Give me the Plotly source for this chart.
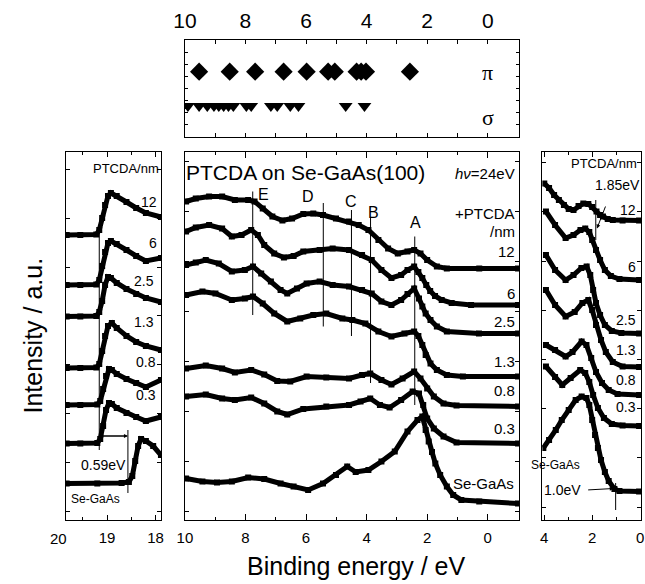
import plotly.graph_objects as go

FONT = "Liberation Sans, Arial, Helvetica, sans-serif"
SERIF = "Liberation Serif, Times New Roman, serif"

# ---- top panel: pi / sigma orbital energies (eV) ----
PI_E = [9.53, 8.52, 7.68, 6.74, 5.98, 5.27, 5.05, 4.33, 4.18, 4.02, 2.57]
SIGMA_E = [9.90, 9.53, 9.26, 9.04, 8.88, 8.72, 8.56, 8.40, 7.97, 7.81, 7.16, 6.95, 6.52, 6.25, 4.69, 4.07]
PI_ROW = 0.673
SIGMA_ROW = 0.32

# ---- main panel: valence band spectra, binding energy (eV) / intensity (a.u.) ----
MAIN_12_E = [9.96, 9.64, 9.20, 8.77, 8.35, 7.91, 7.70, 7.43, 7.11, 6.78, 6.46, 6.09, 5.76, 5.44, 5.01, 4.58, 4.26, 3.94, 3.61, 3.29, 2.97, 2.65, 2.43, 2.22, 2.00, 1.68, 1.35, 0.28, -1.0]
MAIN_12_I = [6.19, 6.25, 6.29, 6.29, 6.22, 6.22, 6.19, 6.05, 5.89, 5.81, 5.85, 5.94, 5.95, 5.92, 5.85, 5.79, 5.72, 5.62, 5.42, 5.25, 5.15, 5.19, 5.22, 5.15, 5.02, 4.89, 4.85, 4.85, 4.85]

MAIN_6_E = [9.96, 9.64, 9.20, 8.77, 8.45, 8.13, 7.81, 7.59, 7.38, 7.05, 6.73, 6.41, 6.09, 5.55, 5.12, 4.58, 4.15, 3.83, 3.51, 3.18, 2.86, 2.65, 2.43, 2.29, 2.16, 2.03, 1.90, 1.74, 1.52, 1.19, 0.55, -1.0]
MAIN_6_I = [5.59, 5.67, 5.72, 5.65, 5.49, 5.52, 5.62, 5.52, 5.32, 5.15, 5.07, 5.10, 5.19, 5.22, 5.25, 5.22, 5.12, 5.02, 4.82, 4.66, 4.72, 4.82, 4.89, 4.78, 4.66, 4.52, 4.40, 4.30, 4.22, 4.16, 4.12, 4.12]

MAIN_2_5_E = [9.96, 9.64, 9.31, 8.88, 8.45, 8.02, 7.75, 7.48, 7.16, 6.84, 6.62, 6.30, 5.98, 5.55, 5.12, 4.58, 4.15, 3.83, 3.51, 3.18, 2.86, 2.65, 2.43, 2.27, 2.16, 2.05, 1.89, 1.68, 1.35, 0.29, -1.0]
MAIN_2_5_I = [4.92, 4.97, 5.02, 4.95, 4.79, 4.82, 4.89, 4.75, 4.59, 4.42, 4.35, 4.45, 4.55, 4.59, 4.52, 4.49, 4.42, 4.35, 4.19, 4.12, 4.22, 4.34, 4.45, 4.25, 4.09, 3.95, 3.82, 3.69, 3.59, 3.55, 3.55]

MAIN_1_3_E = [9.96, 9.42, 8.99, 8.45, 8.02, 7.75, 7.43, 7.05, 6.62, 6.19, 5.76, 5.33, 4.80, 4.47, 4.04, 3.61, 3.18, 2.75, 2.43, 2.29, 2.16, 2.05, 1.89, 1.68, 1.35, 0.82, -1.0]
MAIN_1_3_I = [4.32, 4.39, 4.35, 4.22, 4.25, 4.29, 4.15, 3.95, 3.79, 3.85, 3.92, 3.95, 3.85, 3.82, 3.75, 3.59, 3.49, 3.55, 3.59, 3.50, 3.32, 3.12, 2.95, 2.82, 2.72, 2.69, 2.69]

MAIN_0_8_E = [9.96, 9.31, 8.77, 8.35, 7.81, 7.38, 6.95, 6.52, 5.98, 5.33, 4.58, 4.15, 3.88, 3.51, 3.18, 2.81, 2.43, 2.22, 2.00, 1.78, 1.46, 1.03, -1.0]
MAIN_0_8_I = [2.85, 2.91, 2.85, 2.77, 2.82, 2.73, 2.60, 2.59, 2.69, 2.67, 2.65, 2.72, 2.75, 2.62, 2.53, 2.65, 2.79, 2.65, 2.45, 2.29, 2.15, 2.11, 2.09]

MAIN_0_3_E = [9.96, 9.31, 8.77, 8.35, 7.81, 7.38, 6.95, 6.62, 6.09, 5.33, 4.58, 4.20, 3.88, 3.56, 3.24, 2.86, 2.48, 2.27, 2.13, 2.00, 1.78, 1.46, 1.03, -1.0]
MAIN_0_3_I = [2.29, 2.33, 2.25, 2.22, 2.27, 2.15, 1.99, 1.93, 2.04, 2.09, 2.12, 2.19, 2.25, 2.12, 2.07, 2.22, 2.39, 2.35, 2.12, 1.85, 1.65, 1.49, 1.37, 1.35]

MAIN_SE_E = [9.96, 9.42, 8.94, 8.45, 7.91, 7.38, 6.84, 6.41, 5.93, 5.44, 5.01, 4.64, 4.36, 3.94, 3.51, 3.07, 2.65, 2.32, 2.16, 2.05, 1.95, 1.84, 1.73, 1.57, 1.35, 1.14, 0.87, 0.28, -1.0]
MAIN_SE_I = [0.65, 0.59, 0.57, 0.59, 0.67, 0.64, 0.55, 0.49, 0.42, 0.55, 0.72, 0.89, 0.78, 0.82, 0.99, 1.19, 1.59, 1.82, 1.89, 1.62, 1.39, 1.18, 0.95, 0.72, 0.49, 0.32, 0.22, 0.19, 0.15]

# ---- left panel: secondary electron cutoff (eV) ----
LEFT_12_E = [19.83, 19.55, 19.22, 19.16, 19.10, 19.04, 18.98, 18.92, 18.80, 18.60, 18.40, 18.20, 17.89]
LEFT_12_I = [5.52, 5.52, 5.53, 5.62, 5.86, 6.12, 6.30, 6.36, 6.30, 6.18, 6.06, 5.96, 5.88]
LEFT_6_E = [19.83, 19.55, 19.22, 19.16, 19.10, 19.04, 18.98, 18.92, 18.80, 18.60, 18.40, 18.20, 17.89]
LEFT_6_I = [4.52, 4.52, 4.53, 4.62, 4.90, 5.18, 5.36, 5.40, 5.34, 5.22, 5.10, 5.00, 5.06]
LEFT_2_5_E = [19.83, 19.55, 19.22, 19.16, 19.10, 19.04, 18.98, 18.92, 18.80, 18.60, 18.40, 18.20, 17.89]
LEFT_2_5_I = [3.89, 3.89, 3.90, 3.98, 4.20, 4.52, 4.68, 4.66, 4.56, 4.44, 4.34, 4.26, 4.18]
LEFT_1_3_E = [19.83, 19.55, 19.22, 19.16, 19.10, 19.04, 18.98, 18.90, 18.80, 18.60, 18.40, 18.20, 17.89]
LEFT_1_3_I = [2.86, 2.86, 2.87, 2.94, 3.20, 3.50, 3.70, 3.76, 3.66, 3.50, 3.38, 3.30, 3.22]
LEFT_0_8_E = [19.83, 19.55, 19.20, 19.14, 19.08, 19.02, 18.96, 18.90, 18.80, 18.60, 18.40, 18.20, 17.89]
LEFT_0_8_I = [2.12, 2.12, 2.13, 2.20, 2.44, 2.70, 2.84, 2.82, 2.74, 2.64, 2.56, 2.48, 2.62]
LEFT_0_3_E = [19.83, 19.55, 19.20, 19.14, 19.08, 19.02, 18.96, 18.90, 18.80, 18.60, 18.40, 18.20, 17.89]
LEFT_0_3_I = [1.35, 1.35, 1.36, 1.44, 1.70, 2.02, 2.16, 2.14, 2.06, 1.96, 1.88, 1.80, 1.88]
LEFT_SE_E = [19.83, 19.20, 18.70, 18.55, 18.48, 18.42, 18.36, 18.30, 18.20, 18.05, 17.89]
LEFT_SE_I = [0.55, 0.55, 0.56, 0.58, 0.70, 1.00, 1.30, 1.44, 1.40, 1.30, 1.12]

# ---- right panel: valence band maximum region (eV) ----
RIGHT_12_E = [4.00, 3.80, 3.59, 3.39, 3.18, 2.98, 2.78, 2.57, 2.37, 2.16, 2.00, 1.82, 1.67, 1.55, 1.35, 1.14, 0.73, 0.04]
RIGHT_12_I = [6.55, 6.46, 6.32, 6.22, 6.12, 6.04, 6.02, 6.10, 6.15, 6.14, 6.08, 5.99, 5.92, 5.89, 5.84, 5.82, 5.81, 5.81]
RIGHT_6_E = [3.93, 3.55, 3.11, 2.78, 2.49, 2.29, 2.12, 2.00, 1.84, 1.67, 1.47, 1.22, 0.86, 0.04]
RIGHT_6_I = [5.99, 5.72, 5.46, 5.52, 5.62, 5.65, 5.58, 5.42, 5.22, 5.02, 4.82, 4.70, 4.64, 4.62]
RIGHT_2_5_E = [3.93, 3.55, 3.11, 2.78, 2.45, 2.23, 2.08, 1.96, 1.84, 1.67, 1.47, 1.18, 0.78, 0.04]
RIGHT_2_5_I = [5.12, 4.82, 4.62, 4.72, 4.86, 4.89, 4.72, 4.42, 4.16, 3.92, 3.72, 3.60, 3.56, 3.55]
RIGHT_1_3_E = [3.93, 3.55, 3.11, 2.73, 2.41, 2.16, 2.00, 1.84, 1.63, 1.43, 1.14, 0.73, 0.04]
RIGHT_1_3_I = [4.42, 4.12, 3.89, 3.98, 4.16, 4.22, 4.02, 3.72, 3.42, 3.18, 2.98, 2.89, 2.88]
RIGHT_0_8_E = [3.93, 3.55, 3.11, 2.82, 2.44, 2.24, 2.04, 1.84, 1.59, 1.31, 0.94, 0.04]
RIGHT_0_8_I = [3.32, 3.22, 3.09, 3.18, 3.39, 3.32, 3.06, 2.78, 2.56, 2.42, 2.34, 2.32]
RIGHT_0_3_E = [3.93, 3.55, 3.25, 2.90, 2.50, 2.29, 2.12, 1.96, 1.76, 1.51, 1.18, 0.73, 0.04]
RIGHT_0_3_I = [2.89, 2.68, 2.52, 2.66, 2.82, 2.76, 2.58, 2.32, 2.06, 1.86, 1.74, 1.71, 1.70]
RIGHT_SE_E = [4.04, 3.80, 3.52, 3.27, 2.98, 2.69, 2.44, 2.24, 2.12, 2.00, 1.88, 1.76, 1.63, 1.47, 1.31, 1.07, 0.86, 0.04]
RIGHT_SE_I = [1.26, 1.42, 1.62, 1.82, 2.02, 2.22, 2.29, 2.26, 2.12, 1.82, 1.52, 1.26, 1.02, 0.78, 0.60, 0.44, 0.40, 0.39]

THICKNESS = ["12", "6", "2.5", "1.3", "0.8", "0.3"]

# feature markers in the main panel: (label, energy, line top, line bottom)
FEATURES = [("E", 7.76, 6.39, 3.92), ("D", 5.43, 6.16, 3.69), ("C", 4.50, 6.02, 3.50),
            ("B", 3.87, 5.86, 2.56), ("A", 2.41, 5.49, 2.12)]
FEATURE_LABEL_POS = {"E": (7.41, 6.33), "D": (5.93, 6.30), "C": (4.53, 6.20), "B": (3.77, 5.97), "A": (2.38, 5.77)}

fig = go.Figure()


def spectrum(e, i, xa, ya):
    fig.add_trace(go.Scatter(
        x=e, y=i, xaxis=xa, yaxis=ya, mode="lines+markers",
        line=dict(color="black", width=5),
        marker=dict(symbol="square", size=6, color="black"),
        hoverinfo="skip", showlegend=False))


for e, i in [(MAIN_12_E, MAIN_12_I), (MAIN_6_E, MAIN_6_I), (MAIN_2_5_E, MAIN_2_5_I),
             (MAIN_1_3_E, MAIN_1_3_I), (MAIN_0_8_E, MAIN_0_8_I), (MAIN_0_3_E, MAIN_0_3_I),
             (MAIN_SE_E, MAIN_SE_I)]:
    spectrum(e, i, "x", "y")

for e, i in [(LEFT_12_E, LEFT_12_I), (LEFT_6_E, LEFT_6_I), (LEFT_2_5_E, LEFT_2_5_I),
             (LEFT_1_3_E, LEFT_1_3_I), (LEFT_0_8_E, LEFT_0_8_I), (LEFT_0_3_E, LEFT_0_3_I),
             (LEFT_SE_E, LEFT_SE_I)]:
    spectrum(e, i, "x3", "y3")

for e, i in [(RIGHT_12_E, RIGHT_12_I), (RIGHT_6_E, RIGHT_6_I), (RIGHT_2_5_E, RIGHT_2_5_I),
             (RIGHT_1_3_E, RIGHT_1_3_I), (RIGHT_0_8_E, RIGHT_0_8_I), (RIGHT_0_3_E, RIGHT_0_3_I),
             (RIGHT_SE_E, RIGHT_SE_I)]:
    spectrum(e, i, "x4", "y4")

# orbital energies
fig.add_trace(go.Scatter(x=PI_E, y=[PI_ROW] * len(PI_E), xaxis="x2", yaxis="y2", mode="markers",
                         marker=dict(symbol="diamond", size=14, color="black"),
                         hoverinfo="skip", showlegend=False))
fig.add_trace(go.Scatter(x=SIGMA_E, y=[SIGMA_ROW] * len(SIGMA_E), xaxis="x2", yaxis="y2", mode="markers",
                         marker=dict(symbol="triangle-down", size=12, color="black"),
                         hoverinfo="skip", showlegend=False))

shapes = []
annotations = []


def vline(x, y0, y1, xref, yref):
    shapes.append(dict(type="line", x0=x, x1=x, y0=y0, y1=y1, xref=xref, yref=yref,
                       line=dict(color="black", width=1)))


def label(text, x, y, xref, yref, size=15, xanchor="center", family=FONT):
    annotations.append(dict(text=text, x=x, y=y, xref=xref, yref=yref, showarrow=False,
                            xanchor=xanchor, yanchor="middle",
                            font=dict(family=family, size=size, color="black")))


for name, e, top, bottom in FEATURES:
    vline(e, top, bottom, "x", "y")
    lx, ly = FEATURE_LABEL_POS[name]
    label(name, lx, ly, "x", "y", size=16)

label("PTCDA on Se-GaAs(100)", 6.01, 6.77, "x", "y", size=21)
label("<i>h\u03bd</i>=24eV", -0.97, 6.75, "x", "y", size=15, xanchor="right")
label("+PTCDA", -0.97, 5.95, "x", "y", size=15, xanchor="right")
label("/nm", -0.97, 5.59, "x", "y", size=15, xanchor="right")

main_label_y = [5.19, 4.36, 3.79, 2.99, 2.42, 1.65]
for t, y in zip(THICKNESS, main_label_y):
    label(t, -0.95, y, "x", "y", size=15, xanchor="right")
label("Se-GaAs", -0.93, 0.55, "x", "y", size=15, xanchor="right")

# left panel
label("PTCDA/nm", 18.60, 6.85, "x3", "y3", size=13)
left_label = [(18.13, 6.18), (18.06, 5.36), (18.23, 4.60), (18.23, 3.78), (18.20, 2.98), (18.20, 2.32)]
for t, (x, y) in zip(THICKNESS, left_label):
    label(t, x, y, "x3", "y3", size=14)
label("0.59eV", 19.07, 0.92, "x3", "y3", size=14)
label("Se-GaAs", 19.24, 0.25, "x3", "y3", size=12)
# "20" sits just outside the left edge of this panel's frame
annotations.append(dict(text="20", x=48 / 645, y=(584 - 538) / 584, xref="paper", yref="paper", showarrow=False,
                        xanchor="center", yanchor="middle", font=dict(family=FONT, size=15, color="black")))
CUTOFF_PTCDA = 19.16
CUTOFF_SUB = 18.57
vline(CUTOFF_PTCDA, 5.66, 1.22, "x3", "y3")
vline(CUTOFF_SUB, 1.62, 0.36, "x3", "y3")
for tip, tail in [(CUTOFF_SUB, CUTOFF_PTCDA), (CUTOFF_PTCDA, CUTOFF_SUB)]:
    annotations.append(dict(x=tip, y=1.50, ax=tail, ay=1.50, xref="x3", yref="y3", axref="x3", ayref="y3",
                            text="", showarrow=True, arrowhead=2, arrowsize=0.8, arrowwidth=1,
                            arrowcolor="black"))

# right panel
label("PTCDA/nm", 1.50, 6.95, "x4", "y4", size=13)
right_label = [6.02, 4.89, 3.82, 3.22, 2.62, 2.09]
for t, y in zip(THICKNESS, right_label):
    label(t, 0.08, y, "x4", "y4", size=14, xanchor="right")
label("Se-GaAs", 3.52, 0.92, "x4", "y4", size=12)
label("1.85eV", 0.94, 6.52, "x4", "y4", size=14)
label("1.0eV", 3.25, 0.42, "x4", "y4", size=14)
vline(1.85, 6.22, 5.42, "x4", "y4")
vline(1.02, 0.56, 0.02, "x4", "y4")
annotations.append(dict(x=1.80, y=5.65, ax=1.42, ay=6.12, xref="x4", yref="y4", axref="x4", ayref="y4",
                        text="", showarrow=True, arrowhead=2, arrowsize=0.8, arrowwidth=1, arrowcolor="black"))
annotations.append(dict(x=1.10, y=0.45, ax=2.23, ay=0.42, xref="x4", yref="y4", axref="x4", ayref="y4",
                        text="", showarrow=True, arrowhead=2, arrowsize=0.8, arrowwidth=1, arrowcolor="black"))

# top panel row names
label("\u03c0", 0.0, 0.67, "x2", "y2", size=22, family=SERIF)
label("\u03c3", 0.0, 0.20, "x2", "y2", size=22, family=SERIF)

# axis titles
annotations.append(dict(text="Intensity / a.u.", x=22 / 645, y=(584 - 335) / 584, xref="paper", yref="paper",
                        xanchor="center", yanchor="middle",
                        showarrow=False, textangle=-90, font=dict(family=FONT, size=25, color="black")))
annotations.append(dict(text="Binding energy / eV", x=353 / 645, y=(584 - 566) / 584, xref="paper", yref="paper",
                        xanchor="center", yanchor="middle",
                        showarrow=False, font=dict(family=FONT, size=25, color="black")))

W, H = 645, 584
Y_TOP, Y_BOT = 152, 520
spec_ydom = [(H - Y_BOT) / H, (H - Y_TOP) / H]
main_xdom = [177 / W, 519 / W]

common = dict(showline=True, linecolor="black", linewidth=1, mirror="ticks", showgrid=False,
              zeroline=False, ticks="inside", tickcolor="black", tickwidth=1, ticklabeloverflow="allow")

fig.update_layout(
    width=W, height=H, margin=dict(l=0, r=0, t=0, b=0),
    paper_bgcolor="white", plot_bgcolor="white",
    font=dict(family=FONT, color="black"),
    showlegend=False,
    xaxis=dict(domain=main_xdom, range=[10, -1.03], anchor="y", dtick=2, ticklen=6,
               minor=dict(dtick=1, ticks="inside", ticklen=3, tickcolor="black"),
               tickfont=dict(size=15), ticklabelstandoff=4, **common),
    yaxis=dict(domain=spec_ydom, range=[-0.18, 7.18], anchor="x", dtick=1, ticklen=4,
               showticklabels=False, **common),
    xaxis2=dict(domain=main_xdom, range=[10, -1.03], anchor="y2", side="top", dtick=2, ticklen=4,
                minor=dict(dtick=1, ticks="inside", ticklen=4, tickcolor="black"),
                tickfont=dict(size=21), ticklabelstandoff=3, **common),
    yaxis2=dict(domain=[(H - 137) / H, (H - 40) / H], range=[0, 1], anchor="x2", dtick=0.125, ticklen=3,
                showticklabels=False, **common),
    xaxis3=dict(domain=[55 / W, 153 / W], range=[19.85, 17.88], anchor="y3", dtick=1, ticklen=5,
                minor=dict(dtick=0.5, ticks="inside", ticklen=3, tickcolor="black"),
                tickfont=dict(size=15), ticklabelstandoff=4, **common),
    yaxis3=dict(domain=spec_ydom, range=[-0.18, 7.18], anchor="x3", tick0=0, dtick=0.976, ticklen=4,
                showticklabels=False, **common),
    xaxis4=dict(domain=[543 / W, 644 / W], range=[4.08, -0.04], anchor="y4", dtick=2, ticklen=5,
                minor=dict(dtick=1, ticks="inside", ticklen=3, tickcolor="black"),
                tickfont=dict(size=15), ticklabelstandoff=4, **common),
    yaxis4=dict(domain=spec_ydom, range=[-0.18, 7.18], anchor="x4", tick0=0.08, dtick=0.984, ticklen=4,
                showticklabels=False, **common),
    shapes=shapes, annotations=annotations,
)

fig.write_html("out.html")
